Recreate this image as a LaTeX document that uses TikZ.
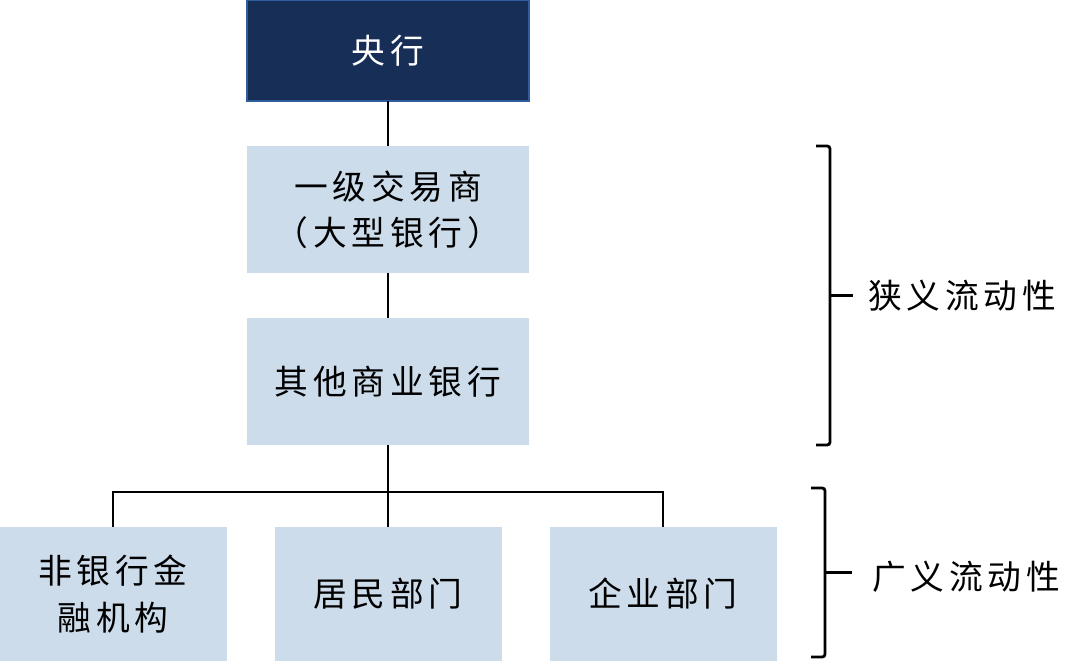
\documentclass[tikz,border=0pt]{standalone}
\usepackage{fontspec}
\newfontfamily\cjk[LetterSpace=14]{Noto Sans CJK SC}
\usetikzlibrary{positioning, calc}
\definecolor{navyBox}{HTML}{172F57}
\definecolor{navyEdge}{HTML}{2F5C9E}
\definecolor{blueBoxLight}{HTML}{CCDCEB}

\begin{document}
\begin{tikzpicture}[node distance=1.125cm and 1.2cm,
  every node/.style={text=black, font=\cjk\fontsize{24pt}{33pt}\selectfont},
  link/.style={draw=black, line width=2pt},
  brk/.style={draw=black, line width=2pt, rounded corners=2pt},
  centralbox/.style={draw=navyEdge, line width=1pt, fill=navyBox, text=white,
                     minimum width=7.05cm, minimum height=2.525cm,
                     inner sep=0pt, outer sep=0pt, align=center},
  tierbox/.style={fill=blueBoxLight, minimum width=7.05cm, minimum height=3.175cm,
                  inner sep=0pt, outer sep=0pt, align=center},
  sectorbox/.style={fill=blueBoxLight, minimum width=5.675cm, minimum height=3.35cm,
                    inner sep=0pt, outer sep=0pt, align=center},
  sidelabel/.style={inner sep=0pt, anchor=west}]

  \useasboundingbox (0,0) rectangle (27.275,-16.525);

  %% ═══════════════════════════════════════════════════════════════
  %% CENTRAL BANK + BANKING TIERS
  %% ═══════════════════════════════════════════════════════════════

  \node[centralbox] (central) at (9.7,-1.2625) {央行};

  \node[tierbox, below=of central] (primary) {一级交易商\\（大型银行）};
  \node[tierbox, below=of primary] (others) {其他商业银行};

  \draw[link] (central) -- (primary);
  \draw[link] (primary) -- (others);

  %% ═══════════════════════════════════════════════════════════════
  %% NON-BANK SECTORS
  %% ═══════════════════════════════════════════════════════════════

  \node[sectorbox, below=2.05cm of others] (house) {居民部门};
  \node[sectorbox, left=of house] (nbfi) {非银行金\\融机构};
  \node[sectorbox, right=of house] (corp) {企业部门};

  \coordinate (split) at ([yshift=-1.175cm]others.south);
  \draw[link] (others.south) -- (house.north);
  \draw[link] (nbfi.north) |- (split) -| (corp.north);

  %% ═══════════════════════════════════════════════════════════════
  %% BRACKETS: NARROW / BROAD LIQUIDITY
  %% ═══════════════════════════════════════════════════════════════

  \coordinate (bx) at (20.75,0);
  \coordinate (nb) at ($(primary.north -| bx)!0.5!(others.south -| bx)$);
  \draw[brk] ([xshift=-0.35cm]primary.north -| bx) -- (primary.north -| bx)
             -- (others.south -| bx) -- ++(-0.35,0);
  \node[sidelabel, right=0.95cm of nb] (narrow) {狭义流动性};
  \draw[brk] (nb) -- ([xshift=-0.375cm]narrow.west);

  \coordinate (bx2) at (20.625,0);
  \coordinate (bt) at ([yshift=0.1cm]split -| bx2);
  \coordinate (bb) at ([yshift=0.1cm]house.south -| bx2);
  \coordinate (wb) at ($(bt)!0.5!(bb)$);
  \draw[brk] ([xshift=-0.35cm]bt) -- (bt) -- (bb) -- ++(-0.35,0);
  \node[sidelabel, right=1.175cm of wb, yshift=-0.1cm] (broad) {广义流动性};
  \draw[brk] (wb) -- ([xshift=-0.5cm, yshift=0.1cm]broad.west);

\end{tikzpicture}
\end{document}
